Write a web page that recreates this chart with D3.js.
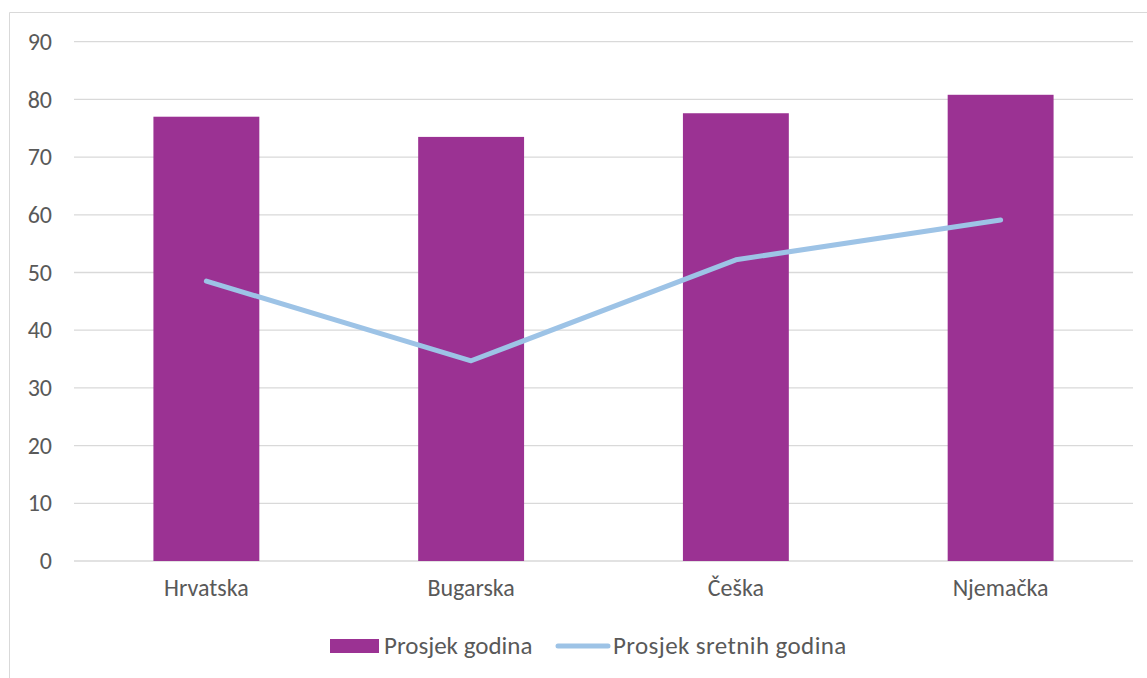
<!DOCTYPE html>
<html>
<head>
<meta charset="utf-8">
<script src="https://cdn.jsdelivr.net/npm/d3@7"></script>
<style>
  body { margin: 0; background: #fff; }
  svg { display: block; font-family: Carlito, Lato, "Open Sans", sans-serif; }
</style>
</head>
<body>
<div id="chart"></div>
<script>
// data
const countries = ["Hrvatska", "Bugarska", "Češka", "Njemačka"]
const avgYears = [77, 73.5, 77.6, 80.8]
const avgHappyYears = [48.5, 34.7, 52.2, 59.1]
const yTicks = [0, 10, 20, 30, 40, 50, 60, 70, 80, 90]
const seriesNames = ["Prosjek godina", "Prosjek sretnih godina"]

const w = 1147, h = 678
const barColor = "#9B3293", lineColor = "#9DC3E6", textColor = "#595959"
const fontSize = 24

let svg = d3.select('#chart').append('svg').attr('width', w).attr('height', h)

//chart box border (left + top only visible)
svg.append('path')
  .attr('d', `M9.5,${h} V12.5 H${w}`)
  .attr('fill', 'none').attr('stroke', '#d9d9d9').attr('stroke-width', 1)

let x = d3.scaleBand().domain(countries).range([74, 1133]).paddingInner(0.6).paddingOuter(0.3)
let y = d3.scaleLinear().domain([0, 90]).range([561, 41.7])

//gridlines
svg.append('g').selectAll('line').data(yTicks).join('line')
  .attr('x1', 74).attr('x2', 1133)
  .attr('y1', d => y(d)).attr('y2', d => y(d))
  .attr('stroke', '#d9d9d9').attr('stroke-width', 1.3)

//y axis labels
let yAxis = svg.append('g').attr('transform', 'translate(52,0)')
  .call(d3.axisLeft(y).tickValues(yTicks).tickSize(0).tickPadding(0))
yAxis.attr('font-family', null).attr('font-size', fontSize)
yAxis.select('.domain').remove()
yAxis.selectAll('text').attr('fill', textColor)

//bars
svg.append('g').selectAll('rect').data(countries).join('rect')
  .attr('x', d => x(d))
  .attr('width', x.bandwidth())
  .attr('y', (d, i) => y(avgYears[i]))
  .attr('height', (d, i) => y(0) - y(avgYears[i]))
  .attr('fill', barColor)

//x axis labels
let xAxis = svg.append('g').attr('transform', `translate(0,${y(0) + 18})`)
  .call(d3.axisBottom(x).tickSize(0).tickPadding(0))
xAxis.attr('font-family', null).attr('font-size', fontSize)
xAxis.select('.domain').remove()
xAxis.selectAll('text').attr('fill', textColor)

//line
let line = d3.line()
  .x((d, i) => x(countries[i]) + x.bandwidth() / 2)
  .y(d => y(d))
svg.append('path').datum(avgHappyYears)
  .attr('d', line)
  .attr('fill', 'none').attr('stroke', lineColor)
  .attr('stroke-width', 5).attr('stroke-linecap', 'round').attr('stroke-linejoin', 'round')

//legend
let legend = svg.append('g').attr('font-size', 25).attr('fill', textColor)
legend.append('rect').attr('x', 330).attr('y', 639).attr('width', 49).attr('height', 14).attr('fill', barColor)
legend.append('text').attr('x', 384).attr('y', 654).text(seriesNames[0])
legend.append('line').attr('x1', 558).attr('x2', 608).attr('y1', 646).attr('y2', 646)
  .attr('stroke', lineColor).attr('stroke-width', 5).attr('stroke-linecap', 'round')
legend.append('text').attr('x', 613).attr('y', 654).attr('letter-spacing', 0.4).text(seriesNames[1])
</script>
</body>
</html>
